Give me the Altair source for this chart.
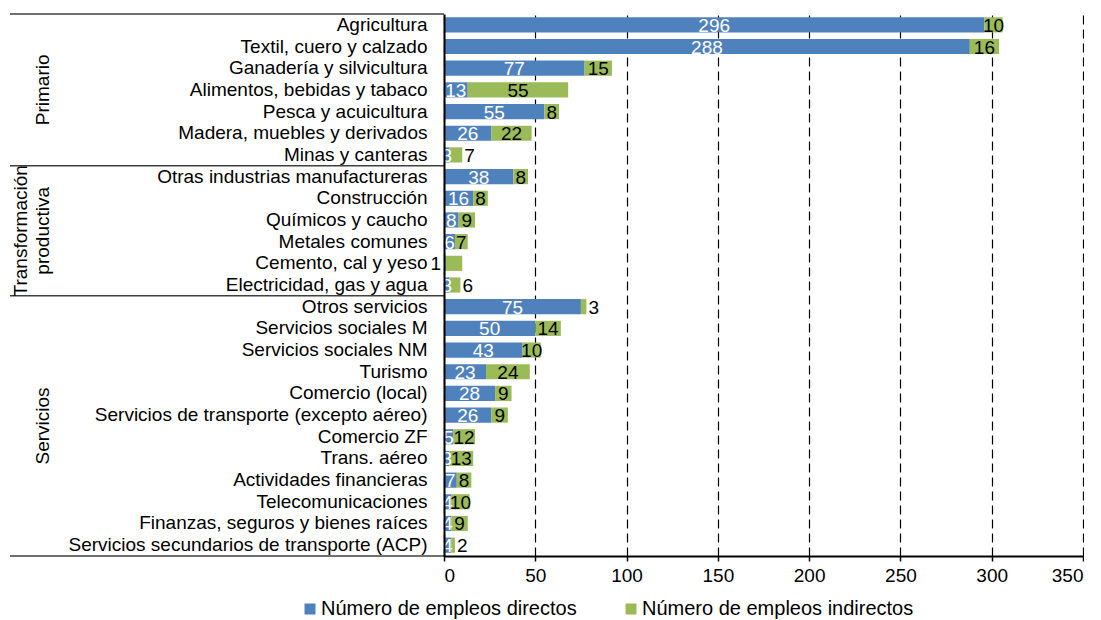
import altair as alt
import pandas as pd

FONT = "Liberation Sans"

sectores = [
    "Agricultura",
    "Textil, cuero y calzado",
    "Ganadería y silvicultura",
    "Alimentos, bebidas y tabaco",
    "Pesca y acuicultura",
    "Madera, muebles y derivados",
    "Minas y canteras",
    "Otras industrias manufactureras",
    "Construcción",
    "Químicos y caucho",
    "Metales comunes",
    "Cemento, cal y yeso",
    "Electricidad, gas y agua",
    "Otros servicios",
    "Servicios sociales M",
    "Servicios sociales NM",
    "Turismo",
    "Comercio (local)",
    "Servicios de transporte (excepto aéreo)",
    "Comercio ZF",
    "Trans. aéreo",
    "Actividades financieras",
    "Telecomunicaciones",
    "Finanzas, seguros y bienes raíces",
    "Servicios secundarios de transporte (ACP)",
]
directos = [296, 288, 77, 13, 55, 26, 3, 38, 16, 8, 6, 1, 3,
            75, 50, 43, 23, 28, 26, 5, 3, 7, 4, 4, 4]
indirectos = [10, 16, 15, 55, 8, 22, 7, 8, 8, 9, 7, 9, 6,
              3, 14, 10, 24, 9, 9, 12, 13, 8, 10, 9, 2]

grupo_nombres = ["Primario", "Transformación\nproductiva", "Servicios"]
grupo_tamanos = [7, 6, 12]

series = ["Número de empleos directos", "Número de empleos indirectos"]
colores = ["#4F81BD", "#9BBB59"]
ticks_x = [0, 50, 100, 150, 200, 250, 300, 350]

n = len(sectores)
wide = pd.DataFrame({"sector": sectores, "directo": directos, "indirecto": indirectos})
long = pd.DataFrame({
    "sector": sectores * 2,
    "serie": [series[0]] * n + [series[1]] * n,
    "valor": directos + indirectos,
    "orden": [0] * n + [1] * n,
})

limites = [0]
for t in grupo_tamanos:
    limites.append(limites[-1] + t)
centros = [(limites[i] + limites[i + 1]) / 2 for i in range(len(grupo_tamanos))]
lim_df = pd.DataFrame({"limite": limites})
grp_df = pd.DataFrame({"nombre": grupo_nombres, "centro": centros})

x_scale = alt.Scale(domain=[0, 350], nice=False)
x_axis = alt.Axis(
    title=None, values=ticks_x, labelFontSize=19, labelFont=FONT, labelColor="black",
    labelPadding=5, tickColor="black", tickSize=5, tickWidth=1.5,
    domainColor="black", domainWidth=2, grid=True, gridColor="black",
    gridDash=[9, 5], gridWidth=1.2,
)
y_scale = alt.Scale(paddingInner=0.3, paddingOuter=0.15)
y_axis = alt.Axis(
    title=None, labelFontSize=19, labelFont=FONT, labelColor="black", labelPadding=17,
    labelLimit=600, ticks=False, domainColor="black", domainWidth=2, zindex=1, grid=False,
)
y_enc = alt.Y("sector:N", sort=sectores, scale=y_scale, axis=y_axis)

bars = alt.Chart(long).mark_bar().encode(
    x=alt.X("valor:Q", stack="zero", scale=x_scale, axis=x_axis),
    y=y_enc,
    color=alt.Color(
        "serie:N",
        scale=alt.Scale(domain=series, range=colores),
        legend=alt.Legend(
            title=None, orient="none", legendX=-144, legendY=585, direction="horizontal",
            symbolType="square", symbolSize=121, symbolStrokeWidth=0,
            labelFontSize=20, labelFont=FONT, labelColor="black", labelOffset=1,
            columnPadding=44, padding=0, labelLimit=600,
        ),
    ),
    order=alt.Order("orden:Q"),
)

base_w = alt.Chart(wide).transform_calculate(
    total="datum.directo + datum.indirecto",
    mid_d="datum.directo / 2",
    mid_i="datum.directo + datum.indirecto / 2",
    cero="0",
    fuera="datum.indirecto <= 3 || (datum.indirecto <= 7 && datum.directo + datum.indirecto < 12)",
)
txt = dict(fontSize=19, font=FONT, baseline="middle", dy=1)

t_dir = base_w.transform_filter("datum.directo >= 2").mark_text(
    color="white", align="center", **txt
).encode(x="mid_d:Q", y=alt.Y("sector:N", sort=sectores), text="directo:Q")

t_dir_small = base_w.transform_filter("datum.directo < 2").mark_text(
    color="black", align="right", dx=-3, **txt
).encode(x="cero:Q", y=alt.Y("sector:N", sort=sectores), text="directo:Q")

t_ind_in = base_w.transform_filter("datum.directo >= 2 && !datum.fuera").mark_text(
    color="black", align="center", **txt
).encode(x="mid_i:Q", y=alt.Y("sector:N", sort=sectores), text="indirecto:Q")

t_ind_out = base_w.transform_filter("datum.directo >= 2 && datum.fuera").mark_text(
    color="black", align="left", dx=2, **txt
).encode(x="total:Q", y=alt.Y("sector:N", sort=sectores), text="indirecto:Q")

main = alt.layer(bars, t_dir, t_dir_small, t_ind_in, t_ind_out)

q_scale = alt.Scale(domain=[0, n], reverse=True, nice=False, zero=False)
rules = alt.Chart(lim_df).mark_rule(color="#404040", strokeWidth=1.5).encode(
    y=alt.Y("limite:Q", scale=q_scale, axis=None),
    x=alt.value(-434),
    x2=alt.value(0),
)
gstyle = dict(angle=270, align="center", baseline="bottom", fontSize=19, font=FONT,
              color="black", lineBreak="\n", lineHeight=22)
gtext1 = alt.Chart(grp_df).transform_filter(
    "indexof(datum.nombre, '\\n') < 0"
).mark_text(**gstyle).encode(
    y=alt.Y("centro:Q", scale=q_scale, axis=None),
    x=alt.value(-391),
    text="nombre:N",
)
gtext2 = alt.Chart(grp_df).transform_filter(
    "indexof(datum.nombre, '\\n') >= 0"
).mark_text(**gstyle).encode(
    y=alt.Y("centro:Q", scale=q_scale, axis=None),
    x=alt.value(-413),
    text="nombre:N",
)
deco = alt.layer(rules, gtext1, gtext2)

chart = alt.layer(main, deco).resolve_scale(y="independent").properties(
    width=639, height=542, padding={"left": 1, "top": 5, "right": 0, "bottom": 0},
    background="white",
).configure_view(stroke=None)

chart.save("out.html", embed_options={"renderer": "svg", "actions": False})
